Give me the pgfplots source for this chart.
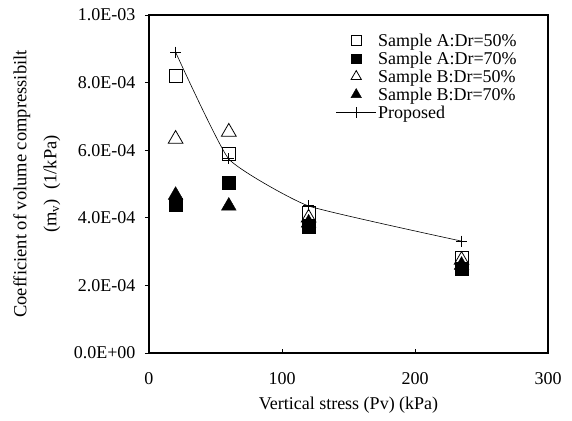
\documentclass[border=0pt]{standalone}
\usepackage{pgfplots}
\pgfplotsset{compat=1.18}
\usepackage{fontspec}
\setmainfont{Liberation Serif}
\pgfplotsset{
  markleg/.style={legend image code/.code={\draw[##1] plot coordinates {(20pt,0pt)};}},
  propleg/.style={legend image code/.code={\draw[##1, mark repeat=2, mark phase=2] plot coordinates {(0pt,0pt) (20pt,0pt) (40pt,0pt)};}},
}
\begin{document}
\begin{tikzpicture}
\begin{axis}[
  scale only axis,
  width=399pt, height=338pt,
  xmin=0, xmax=300, ymin=0, ymax=0.001,
  xtick={0,100,200,300},
  ytick={0,0.0002,0.0004,0.0006,0.0008,0.001},
  yticklabels={0.0E+00,2.0E-04,4.0E-04,6.0E-04,8.0E-04,1.0E-03},
  scaled y ticks=false,
  /pgf/number format/assume math mode=true,
  tick label style={font=\fontsize{18}{20}\selectfont},
  xtick pos=bottom, ytick pos=left,
  tick align=outside,
  major tick length=4pt,
  axis line style={line width=1.5pt},
  every tick/.style={black, line width=0.8pt},
  xtick style={yshift=4pt},
  xticklabel style={anchor=center, yshift=-22pt},
  yticklabel style={anchor=east, xshift=-6pt},
  xlabel={Vertical stress (Pv) (kPa)},
  xlabel style={font=\fontsize{18}{20}\selectfont, at={(axis description cs:0.5,0)}, anchor=center, yshift=-52pt},
  ylabel={Coefficient of volume compressibilt\\(m$_{\mathrm{v}}$)\ \ (1/kPa)},
  ylabel style={font=\fontsize{18.5}{30}\selectfont, align=center, at={(axis description cs:-0.281,0.5)}, anchor=center},
  legend style={draw=none, fill=none, at={(0.468,0.95)}, anchor=north west,
    font=\fontsize{18}{18}\selectfont, row sep=1pt, inner sep=0pt,
    nodes={inner sep=1.5pt}},
  legend cell align=left,
]
\addplot[only marks, mark=square, mark size=6.5pt, black, thick, markleg,
  legend image post style={mark size=4.8pt}] coordinates {
 (20,0.00082) (60,0.00059) (120,0.000414) (235,0.00028)};
\addlegendentry{Sample A:Dr=50\%}
\addplot[only marks, mark=square*, mark size=6.5pt, black, markleg,
  legend image post style={mark size=4.8pt}] coordinates {
 (20,0.000438) (60,0.000503) (120,0.000373) (235,0.000248)};
\addlegendentry{Sample A:Dr=70\%}
\addplot[only marks, mark=triangle, mark size=8.5pt, black, thick, markleg,
  legend image post style={mark size=6pt}] coordinates {
 (20,0.000633) (60,0.000654) (120,0.0004) (235,0.000275)};
\addlegendentry{Sample B:Dr=50\%}
\addplot[only marks, mark=triangle*, mark size=8.5pt, black, markleg,
  legend image post style={mark size=6pt}] coordinates {
 (20,0.000467) (60,0.000435) (120,0.000385) (235,0.00026)};
\addlegendentry{Sample B:Dr=70\%}
\addplot[black, line width=0.6pt, mark=+, mark size=5.5pt, mark options={line width=1pt}, smooth, tension=0.25, propleg] coordinates {
 (20,0.00089) (60,0.000574) (120,0.000435) (235,0.000331)};
\addlegendentry{Proposed}
\end{axis}
\path (-149pt,-67pt) rectangle (423pt,353pt);
\end{tikzpicture}
\end{document}
